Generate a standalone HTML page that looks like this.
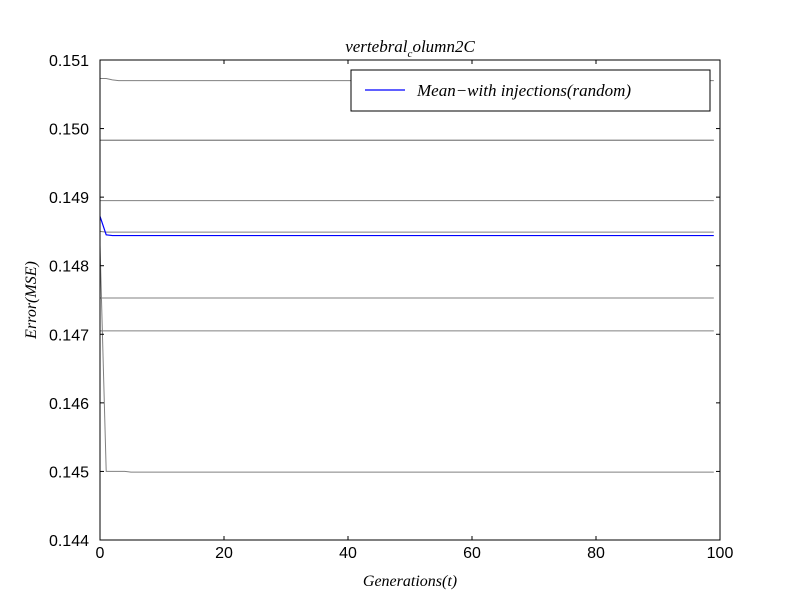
<!DOCTYPE html>
<html><head><meta charset="utf-8"><style>
body{margin:0;background:#fff}
svg text{font-family:"Liberation Sans",sans-serif}
.m{font-family:"Liberation Serif",serif;font-style:italic}
</style></head><body>
<svg id="c" width="800" height="600" xmlns="http://www.w3.org/2000/svg">
<rect width="800" height="600" fill="#fff"/>
<g id="lines"></g>
<rect x="100" y="60" width="620" height="480" fill="none" stroke="#000" stroke-width="1"/>
<g id="ticks"></g>
<text class="m" x="410" y="52" font-size="17" text-anchor="middle">vertebral<tspan font-size="11" dy="5">c</tspan><tspan dy="-5">olumn2C</tspan></text>
<text class="m" x="410" y="586" font-size="16" text-anchor="middle">Generations(t)</text>
<text class="m" transform="translate(36,300) rotate(-90)" font-size="16" text-anchor="middle">Error(MSE)</text>
<g>
<rect x="351" y="70" width="359" height="41" fill="#fff" stroke="#000"/>
<line x1="365" y1="90" x2="405" y2="90" stroke="#0000ff" stroke-width="1.2"/>
<text class="m" x="417" y="96" font-size="17">Mean−with injections(random)</text>
</g>
</svg>
<script>
const xTicks=[0,20,40,60,80,100];
const yTicks=[0.144,0.145,0.146,0.147,0.148,0.149,0.150,0.151];
const yTickLabels=["0.144","0.145","0.146","0.147","0.148","0.149","0.150","0.151"];
// each run: leading values then steady value for remaining generations
const run1Head=[0.15073,0.15073,0.15071], run1Steady=0.15070;
const run2Head=[0.14983], run2Steady=0.14983;
const run3Head=[0.14983], run3Steady=0.14983;
const run4Head=[0.14895], run4Steady=0.14895;
const run5Head=[0.14850], run5Steady=0.14849;
const run6Head=[0.14753], run6Steady=0.14753;
const run7Head=[0.14705], run7Steady=0.14705;
const run8Head=[0.14830,0.14500,0.14500,0.14500,0.14500], run8Steady=0.14499;
const meanHead=[0.14872,0.14845], meanSteady=0.14844;
const N=100;
const X=v=>100+v*6.2, Y=v=>540-(v-0.144)/0.007*480;
const NS="http://www.w3.org/2000/svg";
function build(h,s){const a=h.slice();while(a.length<N)a.push(s);return a;}
const lines=document.getElementById('lines');
function draw(arr,col,w,name){
  const p=document.createElementNS(NS,'polyline');
  p.setAttribute('points',arr.map((v,i)=>X(i)+','+Y(v)).join(' '));
  p.setAttribute('fill','none');p.setAttribute('stroke',col);p.setAttribute('stroke-width',w);
  
  
  lines.appendChild(p);
}
[[run1Head,run1Steady],[run2Head,run2Steady],[run3Head,run3Steady],[run4Head,run4Steady],[run5Head,run5Steady],[run6Head,run6Steady],[run7Head,run7Steady],[run8Head,run8Steady]].forEach((r,i)=>draw(build(r[0],r[1]),'#808080',1,'run-line-'+(i+1)));
draw(build(meanHead,meanSteady),'#0000ff',1.2,'mean-line');
const t=document.getElementById('ticks');
function el(tag,attrs,txt){const e=document.createElementNS(NS,tag);for(const k in attrs)e.setAttribute(k,attrs[k]);if(txt!=null)e.textContent=txt;t.appendChild(e);return e;}
xTicks.forEach(v=>{const x=X(v);
  const a=el('line',{x1:x,y1:540,x2:x,y2:536,stroke:'#000'});
  
  
  const b=el('line',{x1:x,y1:60,x2:x,y2:64,stroke:'#000'});
  
  
  const l=el('text',{x:x,y:558,'font-size':16,'text-anchor':'middle'},String(v));
  
  
});
yTicks.forEach((v,i)=>{const y=Y(v);
  const a=el('line',{x1:100,y1:y,x2:104,y2:y,stroke:'#000'});
  
  
  const b=el('line',{x1:720,y1:y,x2:716,y2:y,stroke:'#000'});
  
  
  const l=el('text',{x:89,y:y+6,'font-size':16,'text-anchor':'end'},yTickLabels[i]);
  
  
});
</script>
</body></html>
